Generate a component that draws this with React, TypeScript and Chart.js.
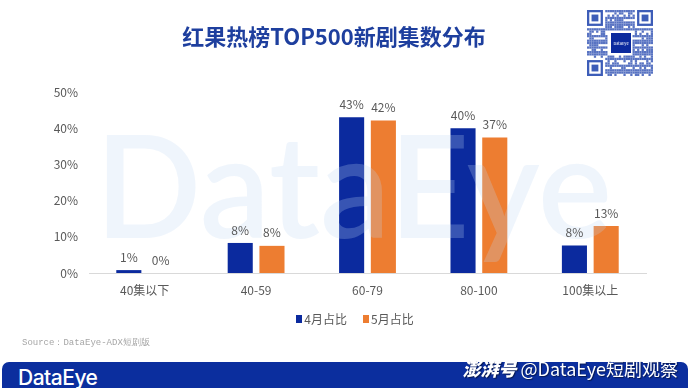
import React, { useEffect, useRef } from "react";
import { Chart, registerables } from "chart.js";

Chart.register(...registerables);

const categories = ["40集以下", "40-59", "60-79", "80-100", "100集以上"];
const seriesNames = ["4月占比", "5月占比"];
const aprilValues = [0.8, 8.3, 43.0, 40.0, 7.6];
const mayValues = [0, 7.5, 42.1, 37.4, 13.0];
const seriesColors = ["#0B2A9E", "#ED7D31"];
const yTicks = [0, 10, 20, 30, 40, 50];

const FONT = '"Noto Sans CJK SC", "Noto Sans", sans-serif';
const GREY = "#595959";

function QRCode() {
  const ref = useRef<HTMLCanvasElement | null>(null);
  useEffect(() => {
    const c = ref.current;
    if (!c) return;
    const ctx = c.getContext("2d");
    if (!ctx) return;
    const n = 29;
    const s = 66 / n;
    ctx.clearRect(0, 0, 66, 66);
    const inFinder = (r: number, cc: number) =>
      (r < 8 && cc < 8) || (r < 8 && cc >= n - 8) || (r >= n - 8 && cc < 8);
    ctx.fillStyle = "#5873C2";
    for (let r = 0; r < n; r++) {
      for (let cc = 0; cc < n; cc++) {
        if (inFinder(r, cc)) continue;
        if (r >= 9 && r <= 19 && cc >= 9 && cc <= 19) continue;
        const h = (Math.imul(r + 3, 2654435761) ^ Math.imul(cc + 7, 40503) ^ Math.imul(r * cc + 11, 97)) >>> 0;
        if ((h >> 5) % 5 < 2) ctx.fillRect(cc * s, r * s, s, s);
      }
    }
    const finder = (x: number, y: number) => {
      ctx.fillStyle = "#3D5DB8";
      ctx.fillRect(x, y, 7 * s, 7 * s);
      ctx.fillStyle = "#fff";
      ctx.fillRect(x + s, y + s, 5 * s, 5 * s);
      ctx.fillStyle = "#3D5DB8";
      ctx.fillRect(x + 2 * s, y + 2 * s, 3 * s, 3 * s);
    };
    finder(0, 0);
    finder((n - 7) * s, 0);
    finder(0, (n - 7) * s);
    ctx.fillStyle = "#ffffff";
    ctx.fillRect(23, 22, 22, 22);
    ctx.fillStyle = "#0B2A9E";
    ctx.fillRect(24, 23, 20, 20);
    ctx.fillStyle = "#ffffff";
    ctx.font = "4px " + FONT;
    ctx.textAlign = "center";
    ctx.textBaseline = "middle";
    ctx.fillText("DataEye", 34, 33);
  }, []);
  return (
    <canvas
      ref={ref}
      width={66}
      height={66}
      style={{ position: "absolute", left: 587, top: 10, width: 66, height: 66 }}
    />
  );
}

export default function App() {
  const canvasRef = useRef<HTMLCanvasElement | null>(null);

  useEffect(() => {
    const canvas = canvasRef.current;
    if (!canvas) return;

    const overlayPlugin = {
      id: "overlay",
      afterDatasetsDraw(chart: any) {
        const ctx = chart.ctx as CanvasRenderingContext2D;
        // watermark
        ctx.save();
        ctx.font = "600 143px Lato, " + FONT;
        const w = ctx.measureText("DataEye").width;
        ctx.translate(95, 238);
        ctx.scale(517 / w, 1);
        ctx.fillStyle = "rgba(190,215,245,0.25)";
        ctx.textBaseline = "alphabetic";
        ctx.textAlign = "left";
        ctx.fillText("DataEye", 0, 0);
        ctx.restore();
        // value labels
        ctx.save();
        ctx.font = "12px " + FONT;
        ctx.fillStyle = GREY;
        ctx.textAlign = "center";
        ctx.textBaseline = "bottom";
        chart.data.datasets.forEach((ds: any, di: number) => {
          const meta = chart.getDatasetMeta(di);
          meta.data.forEach((bar: any, i: number) => {
            const v = ds.data[i] as number;
            ctx.fillText(Math.round(v) + "%", bar.x, bar.y - 7);
          });
        });
        ctx.restore();
      },
    };

    const chart = new Chart(canvas, {
      type: "bar",
      data: {
        labels: categories,
        datasets: [
          {
            label: seriesNames[0],
            data: aprilValues,
            backgroundColor: seriesColors[0],
            categoryPercentage: 0.57,
            barPercentage: 0.79,
          },
          {
            label: seriesNames[1],
            data: mayValues,
            backgroundColor: seriesColors[1],
            categoryPercentage: 0.57,
            barPercentage: 0.79,
          },
        ],
      },
      options: {
        responsive: false,
        animation: false,
        events: [],
        layout: { padding: { left: 0, right: 44, top: 92, bottom: 85 } },
        plugins: {
          legend: { display: false },
          tooltip: { enabled: false },
          title: { display: false },
        },
        scales: {
          x: {
            grid: { display: false, drawTicks: false },
            border: { display: true, color: "#D9D9D9", width: 1 },
            ticks: { color: GREY, font: { size: 12, family: FONT }, padding: 10 },
            afterFit: (scale: any) => {
              scale.height = 30;
            },
          },
          y: {
            min: yTicks[0],
            max: yTicks[yTicks.length - 1],
            grid: { display: false, drawTicks: false },
            border: { display: false },
            ticks: {
              stepSize: 10,
              color: GREY,
              font: { size: 12, family: FONT },
              padding: 11,
              callback: (v: any) => v + "%",
            },
            afterFit: (scale: any) => {
              scale.width = 89;
            },
          },
        },
      },
      plugins: [overlayPlugin],
    });

    return () => chart.destroy();
  }, []);

  return (
    <div
      style={{
        position: "fixed",
        left: 0,
        top: 0,
        width: 690,
        height: 388,
        overflow: "hidden",
        background: "#ffffff",
        fontFamily: FONT,
      }}
    >
      <canvas
        ref={canvasRef}
        width={690}
        height={388}
        style={{ position: "absolute", left: 0, top: 0, width: 690, height: 388 }}
      />
      <div
        style={{
          position: "absolute",
          left: 0,
          width: 668,
          top: 20,
          textAlign: "center",
          fontSize: 22,
          fontWeight: 700,
          color: "#1E3F9E",
          lineHeight: "30px",
        }}
      >
        红果热榜TOP500新剧集数分布
      </div>
      <QRCode />
      <div
        style={{
          position: "absolute",
          left: 0,
          width: 710,
          top: 310,
          display: "flex",
          justifyContent: "center",
          fontSize: 12,
          color: GREY,
          lineHeight: "18px",
        }}
      >
        {seriesNames.map((n, i) => (
          <div key={n} style={{ display: "flex", alignItems: "center", marginRight: i === 0 ? 16 : 0 }}>
            <span
              style={{
                display: "inline-block",
                width: 6,
                height: 8,
                background: seriesColors[i],
                marginRight: 2,
              }}
            />
            {n}
          </div>
        ))}
      </div>
      <div
        style={{
          position: "absolute",
          left: 22,
          top: 336,
          fontSize: 9,
          color: "#A6A6A6",
          fontFamily: '"Liberation Mono", "DejaVu Sans Mono", monospace',
          lineHeight: "14px",
        }}
      >
        Source：DataEye-ADX短剧版
      </div>
      <div
        style={{
          position: "absolute",
          left: 2,
          top: 362,
          width: 686,
          height: 40,
          background: "#0B2E9E",
          borderRadius: "7px 7px 0 0",
        }}
      />
      <div
        style={{
          position: "absolute",
          left: 18,
          top: 366,
          fontFamily: "Inter, sans-serif",
          fontWeight: 500,
          fontSize: 21,
          color: "#ffffff",
          lineHeight: "24px",
          letterSpacing: -0.5,
        }}
      >
        DataEye
      </div>
      <div
        style={{
          position: "absolute",
          right: 12,
          top: 357,
          fontSize: 18,
          color: "#ffffff",
          lineHeight: "22px",
          whiteSpace: "nowrap",
          textShadow: "1px 1px 1px rgba(0,0,0,0.5)",
        }}
      >
        <span style={{ fontStyle: "italic", fontWeight: 900 }}>澎湃号</span> @DataEye短剧观察
      </div>
    </div>
  );
}
